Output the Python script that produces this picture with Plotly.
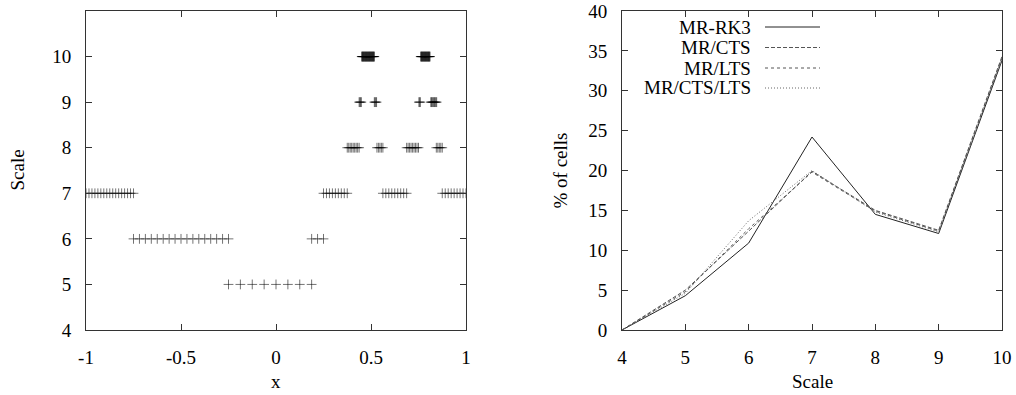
import plotly.graph_objects as go

# ---------------- data: left panel (cell centres per scale) ----------------
scale5_x = [-0.25, -0.1875, -0.125, -0.0625, 0.0, 0.0625, 0.125, 0.1875]
scale6_x = [-0.75, -0.71875, -0.6875, -0.65625, -0.625, -0.59375, -0.5625, -0.53125,
            -0.5, -0.46875, -0.4375, -0.40625, -0.375, -0.34375, -0.3125, -0.28125,
            -0.25, 0.1875, 0.21875, 0.25]
scale7_x = [-1.0, -0.984375, -0.96875, -0.953125, -0.9375, -0.921875, -0.90625,
            -0.890625, -0.875, -0.859375, -0.84375, -0.828125, -0.8125, -0.796875,
            -0.78125, -0.765625, -0.75,
            0.25, 0.265625, 0.28125, 0.296875, 0.3125, 0.328125, 0.34375, 0.359375, 0.375,
            0.5625, 0.578125, 0.59375, 0.609375, 0.625, 0.640625, 0.65625, 0.671875, 0.6875,
            0.875, 0.890625, 0.90625, 0.921875, 0.9375, 0.953125, 0.96875, 0.984375, 1.0]
scale8_x = [0.375, 0.3828, 0.3906, 0.3984, 0.4063, 0.4141, 0.4219, 0.4297, 0.4375,
            0.5313, 0.5391, 0.5469, 0.5547, 0.5625,
            0.6875, 0.6953, 0.7031, 0.7109, 0.7188, 0.7266, 0.7344, 0.7422, 0.75,
            0.8438, 0.8516, 0.8594, 0.8672, 0.875]
scale9_x = [0.4375, 0.4414, 0.4453, 0.4492,
            0.5176, 0.5215, 0.5254, 0.5293,
            0.7520, 0.7559, 0.7598,
            0.8145, 0.8184, 0.8223, 0.8262, 0.8301, 0.8340, 0.8379, 0.8418, 0.8457]
scale10_x = [0.4512, 0.4531, 0.4551, 0.4570, 0.4590, 0.4609, 0.4629, 0.4648, 0.4668,
             0.4688, 0.4707, 0.4727, 0.4746, 0.4766, 0.4785, 0.4805, 0.4824, 0.4844,
             0.4863, 0.4883, 0.4902, 0.4922, 0.4941, 0.4961, 0.4980, 0.5000, 0.5020,
             0.5039, 0.5059, 0.5078, 0.5098, 0.5117, 0.5137, 0.5156, 0.5176,
             0.7617, 0.7637, 0.7656, 0.7676, 0.7695, 0.7715, 0.7734, 0.7754, 0.7773,
             0.7793, 0.7813, 0.7832, 0.7852, 0.7871, 0.7891, 0.7910, 0.7930, 0.7949,
             0.7969, 0.7988, 0.8008, 0.8027, 0.8047, 0.8066, 0.8086, 0.8105]
left_scales = [5, 6, 7, 8, 9, 10]
left_groups = [scale5_x, scale6_x, scale7_x, scale8_x, scale9_x, scale10_x]

left_xtick_vals = [-1, -0.5, 0, 0.5, 1]
left_xtick_text = ["-1", "-0.5", "0", "0.5", "1"]
left_ytick_vals = [4, 5, 6, 7, 8, 9, 10]

# ---------------- data: right panel ----------------
scales = [4, 5, 6, 7, 8, 9, 10]
mr_rk3 = [0.0, 4.3, 10.9, 24.2, 14.5, 12.1, 33.8]
mr_cts = [0.0, 5.0, 12.4, 19.9, 15.0, 12.5, 34.3]
mr_lts = [0.0, 4.8, 12.7, 19.8, 14.9, 12.4, 34.1]
mr_cts_lts = [0.0, 4.6, 13.7, 20.0, 14.8, 12.3, 34.0]

series_names = ["MR-RK3", "MR/CTS", "MR/LTS", "MR/CTS/LTS"]
series_vals = [mr_rk3, mr_cts, mr_lts, mr_cts_lts]
series_dash = ["solid", "4px,2px", "3px,3px", "1px,2px"]
series_color = ["#222222", "#555555", "#555555", "#666666"]

W, H = 1016, 395
FONT = "Liberation Serif"
FS = 19

fig = go.Figure()

for s, xs in zip(left_scales, left_groups):
    fig.add_trace(go.Scatter(
        x=xs, y=[s] * len(xs), mode="markers", xaxis="x", yaxis="y",
        marker=dict(symbol="cross-thin", size=7,
                    line=dict(width=1, color="rgba(0,0,0,0.55)")),
        showlegend=False, hoverinfo="skip"))

for name, vals, dash, col in zip(series_names, series_vals, series_dash, series_color):
    fig.add_trace(go.Scatter(
        x=scales, y=vals, mode="lines", xaxis="x2", yaxis="y2", name=name,
        line=dict(color=col, width=1, dash=dash), showlegend=False))

# plot area in pixels
L1, R1 = 86, 466
L2, R2 = 622, 1002
T, B = 11, 330

def px(x):
    return x / W

def py(y):
    return 1 - y / H

axis_common = dict(
    showline=True, linecolor="#333333", linewidth=1, mirror="allticks",
    ticks="inside", ticklen=6, tickcolor="#333333", tickwidth=1,
    showgrid=False, zeroline=False, automargin=False,
    tickfont=dict(family=FONT, size=FS, color="black"),
)

fig.update_layout(
    width=W, height=H,
    margin=dict(l=0, r=0, t=0, b=0),
    paper_bgcolor="white", plot_bgcolor="white",
    font=dict(family=FONT, size=FS, color="black"),
    xaxis=dict(domain=[px(L1), px(R1)], range=[-1, 1], anchor="y",
               tickvals=left_xtick_vals, ticktext=left_xtick_text,
               ticklabelstandoff=10, **axis_common),
    yaxis=dict(domain=[py(B), py(T)], range=[4, 11], anchor="x",
               tickvals=left_ytick_vals, ticklabelstandoff=10, **axis_common),
    xaxis2=dict(domain=[px(L2), px(R2)], range=[4, 10], anchor="y2",
                dtick=1, tick0=4, ticklabelstandoff=10, **axis_common),
    yaxis2=dict(domain=[py(B), py(T)], range=[0, 40], anchor="x2",
                dtick=5, tick0=0, ticklabelstandoff=10, **axis_common),
)

annotations = [
    dict(text="x", x=px((L1 + R1) / 2), y=py(381), xref="paper", yref="paper",
         showarrow=False, xanchor="center", yanchor="middle"),
    dict(text="Scale", x=px(17), y=py((T + B) / 2), xref="paper", yref="paper",
         showarrow=False, textangle=-90, xanchor="center", yanchor="middle"),
    dict(text="Scale", x=px((L2 + R2) / 2), y=py(381), xref="paper", yref="paper",
         showarrow=False, xanchor="center", yanchor="middle"),
    dict(text="% of cells", x=px(560), y=py((T + B) / 2), xref="paper", yref="paper",
         showarrow=False, textangle=-90, xanchor="center", yanchor="middle"),
]

shapes = []
legend_rows = [27, 47.5, 68, 88]
for name, dash, col, ry in zip(series_names, series_dash, series_color, legend_rows):
    annotations.append(dict(text=name, x=px(753), y=py(ry), xref="paper", yref="paper",
                            showarrow=False, xanchor="right", yanchor="middle"))
    shapes.append(dict(type="line", xref="paper", yref="paper",
                       x0=px(765), x1=px(820), y0=py(ry), y1=py(ry),
                       line=dict(color=col, width=1, dash=dash)))

fig.update_layout(annotations=annotations, shapes=shapes)
fig.write_html("out.html")
